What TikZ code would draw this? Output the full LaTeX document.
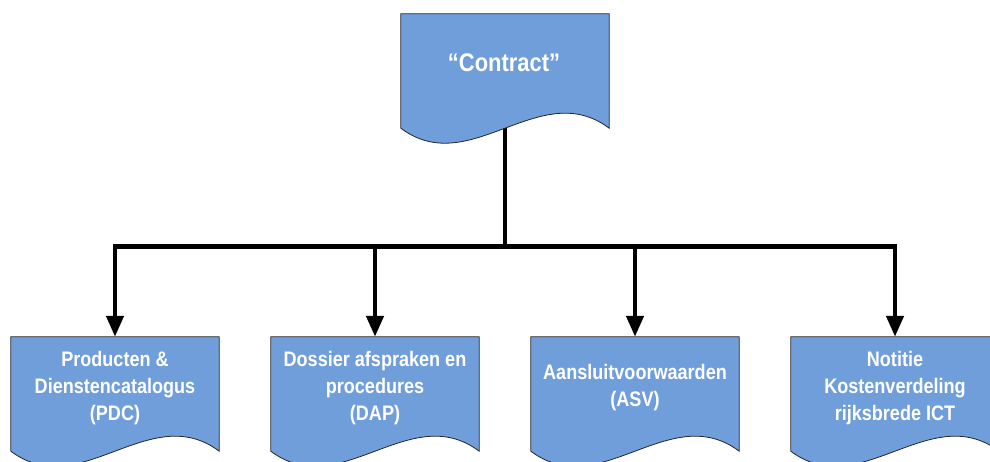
\documentclass[tikz,border=0pt]{standalone}
\usepackage{fontspec}
\setmainfont{Liberation Sans}
\newfontfamily\docfont[FakeStretch=0.86]{Liberation Sans}
\usetikzlibrary{arrows.meta,calc}
\definecolor{docblue}{RGB}{112,158,219}
\newcommand\drawdoc[1]{%
  \draw[docshape] (#1.north west) -- (#1.north east) -- (#1.south east)
    .. controls ($(#1.south east)+(-69.33,-52)$) and ($(#1.south west)+(69.33,52)$) .. (#1.south west) -- cycle;}
\begin{document}
\begin{tikzpicture}[x=1pt,y=-1pt,
  docbox/.style={rectangle, minimum width=208pt, minimum height=114pt, inner sep=0pt},
  docshape/.style={fill=docblue, draw=black!85, line width=0.8pt},
  doctext/.style={text=white, font=\docfont\bfseries\fontsize{21}{27}\selectfont, align=center, inner sep=0pt},
  toptext/.style={text=white, font=\docfont\bfseries\fontsize{25.5}{30}\selectfont, inner sep=0pt},
  wire/.style={line width=4.5pt, black},
  arrowwire/.style={wire, -{Triangle[length=21pt,width=17pt]}}]
\useasboundingbox (0,0) rectangle (990,462);
\clip (0,0) rectangle (990,462);
% box placeholders
\node[docbox] (top) at (505,71) {};
\node[docbox] (pdc) at (115,394) {};
\node[docbox] (dap) at (375,394) {};
\node[docbox] (asv) at (635,394) {};
\node[docbox] (ncr) at (895,394) {};
\coordinate (bus) at (505,246.5);
% connectors
\draw[wire] (top.south) -- (bus);
\draw[arrowwire] (bus) -| (pdc.north);
\draw[arrowwire] (bus) -| (dap.north);
\draw[arrowwire] (bus) -| (asv.north);
\draw[arrowwire] (bus) -| (ncr.north);
% document shapes
\drawdoc{top}
\drawdoc{pdc}
\drawdoc{dap}
\drawdoc{asv}
\drawdoc{ncr}
% texts
\node[toptext] (topt) at ($(top)+(-1,-8.3)$) {“Contract”};
\node[doctext] (pdct) at ($(pdc)+(0,-6)$) {Producten \&\\Dienstencatalogus\\(PDC)};
\node[doctext] (dapt) at ($(dap)+(0,-6)$) {Dossier afspraken en\\procedures\\(DAP)};
\node[doctext] (asvt) at ($(asv)+(0,-6)$) {Aansluitvoorwaarden\\(ASV)};
\node[doctext] (ncrt) at ($(ncr)+(0,-6)$) {Notitie\\Kostenverdeling\\rijksbrede ICT};
\end{tikzpicture}
\end{document}
